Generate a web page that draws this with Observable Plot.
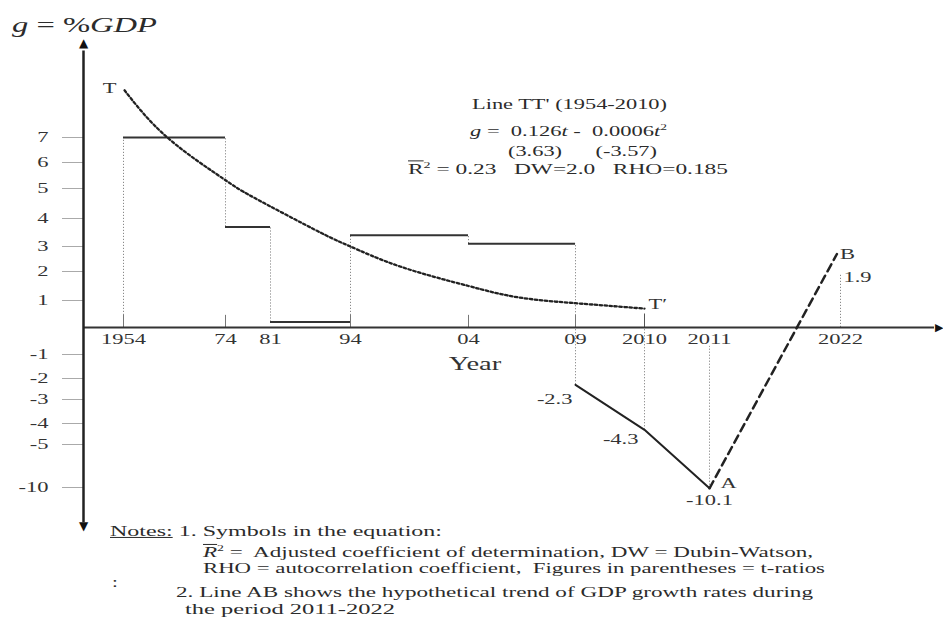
<!DOCTYPE html>
<html><head><meta charset="utf-8">
<script src="https://cdn.jsdelivr.net/npm/d3@7"></script>
<script src="https://cdn.jsdelivr.net/npm/@observablehq/plot@0.6"></script>
<style>
html,body{margin:0;padding:0;background:#fff;}
#wrap{position:relative;width:943px;height:617px;overflow:hidden;font-family:"Liberation Serif","Times New Roman",serif;color:#2b2b2b;}
#wrap svg{position:absolute;left:0;top:0;}
.t{position:absolute;white-space:pre;transform-origin:0 50%;line-height:1.15;}
.ov{text-decoration:overline;}
sup{font-size:0.6em;line-height:0;}
</style></head><body><div id="wrap"></div>
<script>
// ---- data ----
const yearTicks = [1954, 1974, 1981, 1994, 2004, 2009, 2010, 2011, 2022];
const yearLabels = ["1954", "74", "81", "94", "04", "09", "2010", "2011", "2022"];
const valueTicks = [7, 6, 5, 4, 3, 2, 1, -1, -2, -3, -4, -5, -10];

const stepStart = [1954, 1974, 1981, 1994, 2004];
const stepEnd = [1974, 1981, 1994, 2004, 2009];
const stepValue = [7, 3.7, 0.2, 3.4, 3.1];

const trendYear = [1954.2, 1962.6, 1973.4, 1978.4, 1989.1, 1994, 1998.2, 2004, 2006.4, 2009, 2009.5, 2010];
const trendValue = [8.8, 7.0, 5.4, 4.7, 3.5, 3.0, 2.2, 1.5, 1.1, 0.9, 0.8, 0.7];

const crisisYear = [2009, 2010, 2011];
const crisisValue = [-2.3, -4.3, -10.1];

const abYear = [2011, 2021.7];
const abValue = [-10.1, 2.7];

const projYear = [2022];
const projValue = [1.9];

const guideYear = [1954, 1974, 1981, 1994, 2004, 2009, 2010, 2011, 2022];
const guideFrom = [0, 3.7, 0.2, 0, 3.1, -2.3, -4.3, -10.1, 0];
const guideTo = [7, 7, 3.7, 3.4, 3.4, 3.1, 0, -0.7, 1.9];

const smallTickYear = [1954, 1974, 1994, 2004, 2009, 2010];

// ---- tables ----
const steps = stepStart.map((s, i) => ({start: s, end: stepEnd[i], value: stepValue[i]}));
const trend = trendYear.map((y, i) => ({year: y, value: trendValue[i]}));
const crisis = crisisYear.map((y, i) => ({year: y, value: crisisValue[i]}));
const ab = abYear.map((y, i) => ({year: y, value: abValue[i]}));
const guides = guideYear.map((y, i) => ({year: y, from: guideFrom[i], to: guideTo[i]}));
const xLabels = yearTicks.map((y, i) => ({year: y, label: yearLabels[i]}));
const fmt = v => String(v);

// the schematic's axes are drawn piecewise (not to scale)
const axisYear = 1946;
const xPiece = d3.scaleLinear()
  .domain([axisYear, 1954, 1974, 1981, 1994, 2004, 2009, 2010, 2011, 2022, 2030])
  .range([83, 123, 225, 270, 350, 468, 575, 644, 709, 840, 943]);
const yPiece = d3.scaleLinear()
  .domain([-15, -10, -5, -4, -3, -2, -1, 0, 1, 2, 3, 4, 5, 6, 7, 10.7])
  .range([527, 487, 444, 423, 399, 378, 354, 327, 300, 271, 246, 218, 188, 162, 137, 40]);

const one = (x, y, text, opts) => Plot.text([{x, y, text}], {x: "x", y: "y", text: "text", ...opts});

const chart = Plot.plot({
  width: 943, height: 617,
  marginLeft: 83, marginTop: 0, marginRight: 0, marginBottom: 0,
  style: {fontFamily: "'Liberation Serif', 'Times New Roman', serif", fontSize: "15px", color: "#2b2b2b", background: "white", overflow: "visible"},
  x: {type: "linear", transform: xPiece, domain: [0, 943], range: [0, 943], axis: null},
  y: {type: "linear", transform: yPiece, domain: [0, 617], range: [0, 617], axis: null, label: null},
  marks: [
    Plot.ruleX(guides, {x: "year", y1: "from", y2: "to", stroke: "#8a8a8a", strokeWidth: 1, strokeDasharray: "1.2,1.8"}),
    Plot.ruleX(smallTickYear, {x: d => d, y1: 0, y2: 0.45, stroke: "#777", strokeWidth: 1}),
    Plot.ruleX([2010], {x: d => d, y1: 0, y2: 0.5, stroke: "#555", strokeWidth: 1}),
    // y axis ticks and labels
    Plot.ruleY(valueTicks, {y: d => d, x1: axisYear - 4.2, x2: axisYear, stroke: "#aaa", strokeWidth: 1}),
    Plot.text(valueTicks, {x: () => axisYear, y: d => d, text: d => d < 0 ? "-" + Math.abs(d) : String(d),
                           textAnchor: "end", dx: -35, fill: "#333"}),
    Plot.ruleY([0], {x1: axisYear, x2: 2029.3, stroke: "#333", strokeWidth: 2}),
    Plot.ruleX([axisYear], {y1: -14.4, y2: 10.3, stroke: "#222", strokeWidth: 2.5}),
    Plot.text(["▲"], {x: () => axisYear, y: () => 10.7, text: d => d, lineAnchor: "top", fontFamily: "DejaVu Sans", fontSize: 12, fill: "#111", dy: -2}),
    Plot.text(["▼"], {x: () => axisYear, y: () => -15, text: d => d, lineAnchor: "bottom", fontFamily: "DejaVu Sans", fontSize: 12, fill: "#111", dy: 2}),
    Plot.text(["▶"], {x: () => 2030, y: () => 0, text: d => d, textAnchor: "end", fontFamily: "DejaVu Sans", fontSize: 11, fill: "#111"}),
    Plot.ruleY(steps, {y: "value", x1: "start", x2: "end", stroke: "#333", strokeWidth: 2}),
    Plot.line(trend, {x: "year", y: "value", curve: "natural", stroke: "#222", strokeWidth: 2.3, strokeDasharray: "2.5,2.5"}),
    Plot.line(crisis, {x: "year", y: "value", stroke: "#222", strokeWidth: 2}),
    Plot.line(ab, {x: "year", y: "value", stroke: "#222", strokeWidth: 2.5, strokeDasharray: "8,5"}),
    Plot.text(xLabels, {x: "year", y: () => 0, text: "label", dy: 12, fill: "#333"}),
    one(2004.3, 0, "Year", {dy: 36, fontSize: 19, fill: "#333"}),
    one(trendYear[0], trendValue[0], "T", {textAnchor: "end", dx: -8, dy: -2, fill: "#333"}),
    one(trendYear[trendYear.length - 1], trendValue[trendValue.length - 1], "T′", {textAnchor: "start", dx: 4, dy: -4, fill: "#333"}),
    one(crisisYear[0], crisisValue[0], fmt(crisisValue[0]), {textAnchor: "end", dx: -3, dy: 14, fill: "#333"}),
    one(crisisYear[1], crisisValue[1], fmt(crisisValue[1]), {textAnchor: "end", dx: -6, dy: 9, fill: "#333"}),
    one(crisisYear[2], crisisValue[2], "A", {textAnchor: "start", dx: 11, dy: -5, fill: "#333"}),
    one(crisisYear[2], crisisValue[2], fmt(crisisValue[2]), {dy: 12, fill: "#333"}),
    one(abYear[1], abValue[1], "B", {textAnchor: "start", dx: 3, fill: "#333"}),
    one(projYear[0], projValue[0], fmt(projValue[0]), {textAnchor: "start", dx: 3, dy: 3, fill: "#333"})
  ]
});

// horizontally widen the serif lettering like the scanned original
chart.querySelectorAll("text").forEach(t => {
  if (/[▲▼▶]/.test(t.textContent)) return;
  const tr = t.getAttribute("transform");
  if (tr) {
    t.setAttribute("transform", tr + " scale(1.5,1)");
  } else {
    const x = +(t.getAttribute("x") || 0), y = +(t.getAttribute("y") || 0);
    t.removeAttribute("x"); t.removeAttribute("y");
    t.setAttribute("transform", `translate(${x},${y}) scale(1.5,1)`);
  }
});

const wrap = document.getElementById("wrap");
wrap.appendChild(chart);

// ---- annotation text (title, equation, notes) ----
const lines = [
  {html: '<i>g</i> = %<i>GDP</i>', x: 12, y: 25, w: 145, size: 20},
  {html: "Line TT' (1954-2010)", x: 472, y: 105, w: 195, size: 15},
  {html: '<i>g</i> =  0.126<i>t</i> -  0.0006<i>t</i><sup>2</sup>', x: 470, y: 132, w: 197, size: 15},
  {html: '(3.63)      (-3.57)', x: 508, y: 152, w: 149, size: 15},
  {html: '<span class="ov">R</span><sup>2</sup> = 0.23   DW=2.0   RHO=0.185', x: 408, y: 170, w: 320, size: 15},
  {html: '<u>Notes:</u> 1. Symbols in the equation:', x: 110, y: 532, w: 332, size: 14},
  {html: '<i class="ov">R</i><sup>2</sup> =  Adjusted coefficient of determination, DW = Dubin-Watson,', x: 203, y: 553, w: 610, size: 14},
  {html: 'RHO = autocorrelation coefficient,  Figures in parentheses = t-ratios', x: 203, y: 569, w: 622, size: 14},
  {html: ':', x: 112, y: 583, w: 0, size: 14},
  {html: '2. Line AB shows the hypothetical trend of GDP growth rates during', x: 176, y: 593, w: 637, size: 14},
  {html: 'the period 2011-2022', x: 185, y: 610, w: 210, size: 14}
];
for (const L of lines) {
  const d = document.createElement("div");
  d.className = "t";
  d.innerHTML = L.html;
  d.style.left = L.x + "px";
  d.style.top = L.y + "px";
  d.style.fontSize = L.size + "px";
  wrap.appendChild(d);
  const k = L.w ? L.w / d.getBoundingClientRect().width : 1.5;
  d.style.transform = `translateY(-50%) scaleX(${k})`;
}
</script></body></html>
